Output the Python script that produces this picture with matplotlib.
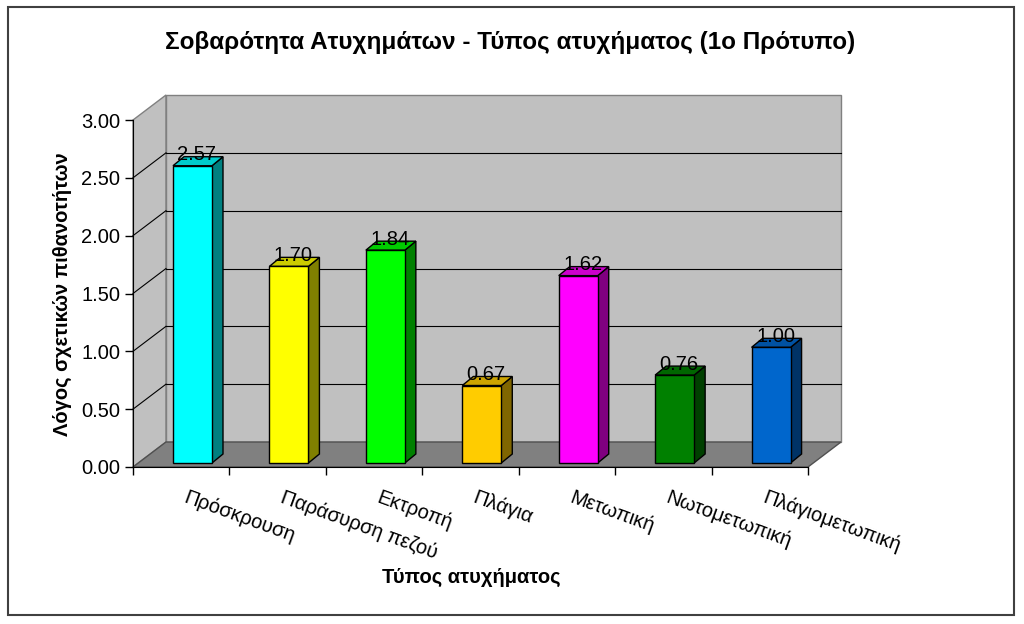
import numpy as np
import matplotlib
matplotlib.use("Agg")
import matplotlib.pyplot as plt
from matplotlib.patches import Polygon, Rectangle

# ---------- DATA ----------
categories = ["Πρόσκρουση", "Παράσυρση πεζού", "Εκτροπή", "Πλάγια",
              "Μετωπική", "Νωτομετωπική", "Πλάγιομετωπική"]
values = [2.57, 1.70, 1.84, 0.67, 1.62, 0.76, 1.00]
front_colors = ["#00FFFF", "#FFFF00", "#00FF00", "#FFCC00", "#FF00FF", "#008000", "#0066CC"]
top_colors   = ["#00CCCC", "#CCCC00", "#00CC00", "#CCA300", "#CC00CC", "#006600", "#0052A3"]
side_colors  = ["#008080", "#808000", "#008000", "#806600", "#800080", "#004000", "#003366"]
yticks = [0.0, 0.5, 1.0, 1.5, 2.0, 2.5, 3.0]

title = "Σοβαρότητα Ατυχημάτων - Τύπος ατυχήματος (1ο Πρότυπο)"
xlabel = "Τύπος ατυχήματος"
ylabel = "Λόγος σχετικών πιθανοτήτων"

# ---------- LAYOUT (pixels) ----------
W, H = 1024, 624
FX0, FX1, FY_TOP, FY_BOT = 133, 808, 120, 467   # front plane
WALL_DX, WALL_DY = 33, 25                        # depth of walls
BAR_OFF, BAR_W = 40, 39                          # bar front face inside a category slot
BAR_LIFT = 4
BAR_DX, BAR_DY = 11, 9

plt.rcParams['font.family'] = ['Liberation Sans', 'DejaVu Sans']

fig = plt.figure(figsize=(W / 100, H / 100), dpi=100)
ax = fig.add_axes([FX0 / W, 1 - FY_BOT / H, (FX1 - FX0) / W, (FY_BOT - FY_TOP) / H])
n = len(categories)
x0, x1 = -0.5, n - 0.5
ymax = yticks[-1]
ax.set_xlim(x0, x1)
ax.set_ylim(0, ymax)

# pixel -> data unit conversion
px_x = (x1 - x0) / (FX1 - FX0)
px_y = ymax / (FY_BOT - FY_TOP)
wdx, wdy = WALL_DX * px_x, WALL_DY * px_y

# walls and floor
left_wall = Polygon([(x0, 0), (x0 + wdx, wdy), (x0 + wdx, ymax + wdy), (x0, ymax)],
                    closed=True, fc="#C0C0C0", ec="#808080", lw=1, clip_on=False, zorder=0)
back_wall = Polygon([(x0 + wdx, wdy), (x1 + wdx, wdy), (x1 + wdx, ymax + wdy), (x0 + wdx, ymax + wdy)],
                    closed=True, fc="#C0C0C0", ec="#808080", lw=1, clip_on=False, zorder=0)
floor = Polygon([(x0, 0), (x1, 0), (x1 + wdx, wdy), (x0 + wdx, wdy)],
                closed=True, fc="#808080", ec="#505050", lw=1, clip_on=False, zorder=0)
for p in (left_wall, back_wall, floor):
    ax.add_patch(p)

# gridlines on back and side wall (top edge stays grey)
for v in yticks[1:-1]:
    ax.plot([x0 + wdx, x1 + wdx], [v + wdy, v + wdy], color="black", lw=0.8, clip_on=False, zorder=1)
    ax.plot([x0, x0 + wdx], [v, v + wdy], color="black", lw=0.8, clip_on=False, zorder=1)

# 3D bars
bdx, bdy = BAR_DX * px_x, BAR_DY * px_y
lift = BAR_LIFT * px_y
for i, v in enumerate(values):
    xl = i - 0.5 + BAR_OFF * px_x
    xr = xl + BAR_W * px_x
    top = lift + v
    ax.add_patch(Polygon([(xr, lift), (xr + bdx, lift + bdy), (xr + bdx, top + bdy), (xr, top)],
                         closed=True, fc=side_colors[i], ec="black", lw=1, clip_on=False, zorder=3))
    ax.add_patch(Polygon([(xl, top), (xr, top), (xr + bdx, top + bdy), (xl + bdx, top + bdy)],
                         closed=True, fc=top_colors[i], ec="black", lw=1, clip_on=False, zorder=3))
    ax.add_patch(Rectangle((xl, lift), xr - xl, v, fc=front_colors[i], ec="black", lw=1,
                           clip_on=False, zorder=4))
    ax.text((xl + xr) / 2 + bdx / 2 - 1 * px_x, top + bdy + 2 * px_y, f"{v:.2f}",
            ha="center", va="center", fontsize=14.5, color="black", zorder=5)

# axes, ticks
for s in ("top", "right"):
    ax.spines[s].set_visible(False)
ax.spines["left"].set_color("black")
ax.spines["bottom"].set_color("black")
ax.set_facecolor("none")
ax.set_yticks(yticks)
ax.set_yticklabels([f"{t:.2f}" for t in yticks])
ax.set_xticks(np.arange(x0, x1 + 0.01, 1.0))
ax.set_xticklabels([])
ax.tick_params(axis="both", direction="out", length=6, width=1, colors="black", labelsize=14.5)
ax.tick_params(axis="y", pad=3)

# rotated category labels
for i, c in enumerate(categories):
    ax.text(i + 7 * px_x, -21 * px_y, c, rotation=-20, rotation_mode="anchor",
            ha="left", va="top", fontsize=14.5, color="black", clip_on=False)

fig.text(510 / W, 1 - 43 / H, title, ha="center", va="center",
         fontsize=17.5, fontweight="bold")
fig.text(471 / W, 1 - 577 / H, xlabel, ha="center", va="center", fontsize=14.5, fontweight="bold")
fig.text(62 / W, 1 - 294 / H, ylabel, ha="center", va="center", rotation=90,
         fontsize=14.5, fontweight="bold")

# chart border
fig.patches.append(Rectangle((8 / W, 1 - 615 / H), (1014 - 8) / W, (615 - 7) / H,
                             transform=fig.transFigure, fill=False, ec="#404040", lw=1.5))

fig.savefig("out.png", dpi=100, facecolor="white")
